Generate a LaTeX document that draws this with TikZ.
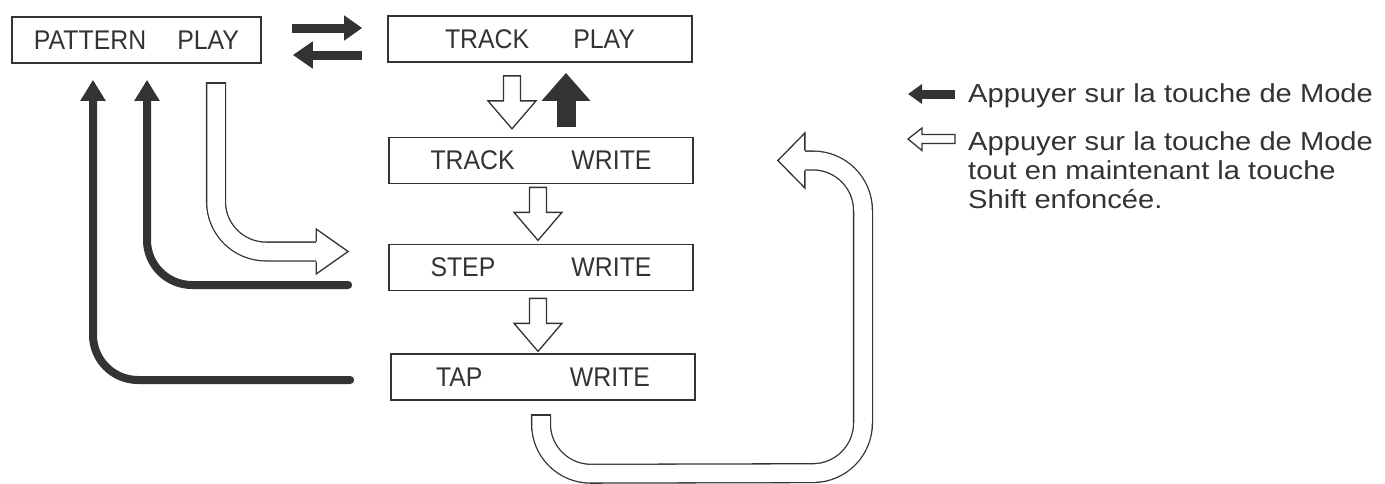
\documentclass[tikz,border=0pt]{standalone}
\usepackage{fontspec}
\setmainfont{Liberation Sans}
\newfontfamily\boxfont[FakeStretch=0.92]{Liberation Sans}
\newfontfamily\legfont[FakeStretch=1.12]{Liberation Sans}
\usetikzlibrary{arrows.meta,calc}
\definecolor{ink}{gray}{0.2}
\begin{document}
\begin{tikzpicture}[x=1pt,y=-1pt,
  box/.style={draw=ink, line width=1.7pt, minimum height=46pt, inner sep=0pt,
    font=\boxfont\fontsize{27}{27}\selectfont, text=ink},
  solidarrow/.style={draw=ink, line width=9pt, -{Triangle[length=18pt,width=24pt]}},
  blackL/.style={draw=ink, line width=8pt, rounded corners=45pt, line cap=round,
    -{Triangle[length=21pt,width=24pt]}},
  hollowline/.style={draw=ink, line width=1.3pt, line join=miter, fill=white},
  band/.style={draw=ink, line width=1.3pt, double=white, double distance=17.5pt,
    rounded corners=50pt},
  legtext/.style={font=\legfont\fontsize{26}{29}\selectfont, text=ink,
    anchor=base west, inner sep=0pt},
  hdown/.pic={\draw[hollowline] (-8.5,0) -- (8.5,0) -- (8.5,25) -- (24,25)
    -- (0,53) -- (-24,25) -- (-8.5,25) -- cycle;}
]
\useasboundingbox (0,0) rectangle (1385,483);

% boxes
\node[box, minimum width=249pt] (PP) at (136.5,40) {\makebox[205pt]{PATTERN\hfill PLAY}};
\node[box, minimum width=304pt] (TP) at (540,39) {\makebox[190pt]{TRACK\hfill PLAY}};
\node[box, minimum width=304pt] (TW) at (541,160.5) {\makebox[221pt]{TRACK\hfill WRITE}};
\node[box, minimum width=304pt] (SW) at (541,267.5) {\makebox[221pt]{STEP\hfill WRITE}};
\node[box, minimum width=304pt] (TaW) at (543,377) {\makebox[214pt]{TAP\hfill WRITE}};

% arrows between PATTERN PLAY and TRACK PLAY
\draw[solidarrow] ($(PP.east)+(30,-12)$) -- ($(TP.west)+(-25,-11)$);
\draw[solidarrow, -{Triangle[length=20pt,width=26pt]}] ($(TP.west)+(-25,16)$) -- ($(PP.east)+(31,15)$);

% TRACK PLAY <-> TRACK WRITE
\pic at ($(TP.south)+(-28,13)$) {hdown};
\draw[draw=ink, line width=19pt, -{Triangle[length=28pt,width=47pt]}]
  ($(TW.north)+(25,-10)$) -- ($(TP.south)+(26,10)$);

% TRACK WRITE -> STEP WRITE -> TAP WRITE
\pic at ($(TW.south)+(-3,3)$) {hdown};
\pic at ($(SW.south)+(-3,7)$) {hdown};

% black returns to PATTERN PLAY
\draw[blackL] ($(SW.west)+(-40,17.5)$) -| ($(PP.south)+(10.5,16)$);
\draw[blackL] ($(TaW.west)+(-40,3)$) -| ($(PP.south)+(-43.5,16)$);

% hollow PATTERN PLAY -> STEP WRITE
\coordinate (a1s) at ($(PP.south)+(79.5,19)$);
\coordinate (a1e) at ($(SW.west)+(-72,-16)$);
\draw[band] (a1s) |- (a1e);
\draw[draw=ink, line width=1.3pt] ($(a1s)+(-10,0)$) -- ($(a1s)+(10,0)$);
\draw[hollowline] ($(a1e)+(0,-10)$) -- ($(a1e)+(0,-22.5)$) -- ($(a1e)+(32,0)$)
  -- ($(a1e)+(0,22.5)$) -- ($(a1e)+(0,10)$);

% hollow TAP WRITE -> TRACK WRITE (U loop)
\coordinate (a2s) at ($(TaW.south)+(-2,14)$);
\coordinate (a2e) at ($(TW.east)+(111,0)$);
\draw[band] (a2s) -- ($(a2s)+(0,59)$) -- (863,473) -- (863,160.5) -- (a2e);
\draw[draw=ink, line width=1.3pt] ($(a2s)+(-10,0)$) -- ($(a2s)+(10,0)$);
\draw[hollowline] ($(a2e)+(0,-10)$) -- ($(a2e)+(0,-27.5)$) -- ($(a2e)+(-27,0)$)
  -- ($(a2e)+(0,27.5)$) -- ($(a2e)+(0,10)$);

% legend
\node[legtext] (leg1) at (968,102) {Appuyer sur la touche de Mode};
\node[legtext] (leg2) at (968,150) {Appuyer sur la touche de Mode};
\node[legtext] (leg3) at (968,179) {tout en maintenant la touche};
\node[legtext] (leg4) at (968,208) {Shift enfoncée.};
\draw[solidarrow, -{Triangle[length=14pt,width=19pt]}]
  ($(leg1.base west)+(-13,-8)$) -- ($(leg1.base west)+(-60,-8)$);
\draw[hollowline] ($(leg2.base west)+(-13,-15.5)$) -- ($(leg2.base west)+(-46,-15.5)$)
  -- ($(leg2.base west)+(-46,-22)$) -- ($(leg2.base west)+(-60,-11)$)
  -- ($(leg2.base west)+(-46,0.5)$) -- ($(leg2.base west)+(-46,-6.5)$)
  -- ($(leg2.base west)+(-13,-6.5)$) -- cycle;
\end{tikzpicture}
\end{document}
